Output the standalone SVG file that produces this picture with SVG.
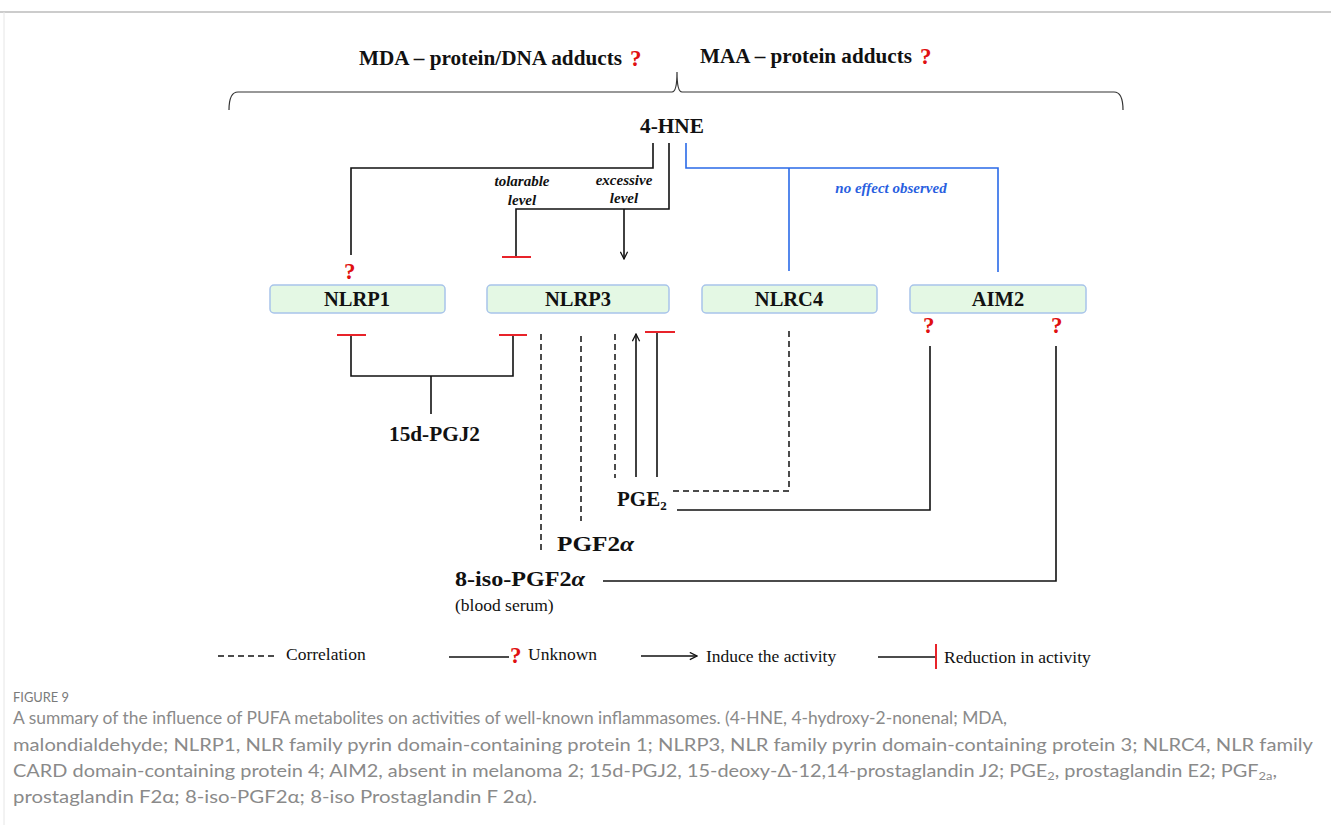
<svg xmlns="http://www.w3.org/2000/svg" width="1331" height="825" viewBox="0 0 1331 825">
<style>
.t{font-family:"Liberation Serif","Times New Roman",serif;font-weight:bold;fill:#111}
.q{font-family:"Liberation Serif",serif;font-weight:bold;fill:#e01010;font-size:23px}
.lbl{font-family:"Liberation Serif",serif;font-weight:bold;font-style:italic;font-size:15px;fill:#111}
.blue{fill:#2a5fe0}
.ln{stroke:#111;stroke-width:1.6;fill:none}
.bl{stroke:#2a6ae8;stroke-width:1.6;fill:none}
.da{stroke:#111;stroke-width:1.5;fill:none;stroke-dasharray:6,4}
.red{stroke:#e8232a;stroke-width:2;fill:none}
.box{fill:#e4f8e4;stroke:#a8c4ea;stroke-width:1.5}
.leg{font-family:"Liberation Serif",serif;font-size:17.5px;fill:#111}
.cap{font-family:Lato,"Liberation Sans",sans-serif;font-size:17px;fill:#8a8a8a}
</style>
<defs>
<marker id="ah" viewBox="0 0 10 10" refX="9" refY="5" markerWidth="9" markerHeight="9" markerUnits="userSpaceOnUse" orient="auto">
<path d="M1,1 L9,5 L1,9" fill="none" stroke="#111" stroke-width="1.4"/>
</marker>
</defs>
<rect width="1331" height="825" fill="#fff"/>
<line x1="0" y1="12" x2="1331" y2="12" stroke="#bbb" stroke-width="1.5"/>
<line x1="4" y1="12" x2="4" y2="825" stroke="#e6e6e6" stroke-width="1"/>

<g id="header">
<text class="t" x="359" y="65" font-size="20" textLength="263" lengthAdjust="spacingAndGlyphs">MDA – protein/DNA adducts</text>
<text class="q" x="630" y="66">?</text>
<text class="t" x="700" y="63" font-size="20" textLength="212" lengthAdjust="spacingAndGlyphs">MAA – protein adducts</text>
<text class="q" x="920" y="64">?</text>
<path d="M229,110 Q229,92 238,92 L672,92 Q677,92 677,72 Q677,92 682,92 L1114,92 Q1123,92 1123,110" fill="none" stroke="#333" stroke-width="1.2"/>
</g>

<g id="n-4HNE"><text class="t" x="640" y="133" font-size="20" textLength="64" lengthAdjust="spacingAndGlyphs">4-HNE</text></g>

<g id="n-NLRP1"><rect class="box" x="270" y="285" width="175" height="28" rx="4"/><text class="t" x="357" y="306" font-size="20.5" text-anchor="middle">NLRP1</text></g>
<g id="n-NLRP3"><rect class="box" x="487" y="285" width="182" height="28" rx="4"/><text class="t" x="578" y="306" font-size="20.5" text-anchor="middle">NLRP3</text></g>
<g id="n-NLRC4"><rect class="box" x="702" y="285" width="175" height="28" rx="4"/><text class="t" x="789" y="306" font-size="20.5" text-anchor="middle">NLRC4</text></g>
<g id="n-AIM2"><rect class="box" x="910" y="285" width="176" height="28" rx="4"/><text class="t" x="998" y="306" font-size="20.5" text-anchor="middle">AIM2</text></g>

<g id="n-15dPGJ2"><text class="t" x="389" y="441" font-size="21" textLength="91" lengthAdjust="spacingAndGlyphs">15d-PGJ2</text></g>
<g id="n-PGE2"><text class="t" x="617" y="506" font-size="21">PGE<tspan font-size="13" dy="4">2</tspan></text></g>
<g id="n-PGF2a"><text class="t" x="557" y="551" font-size="21" textLength="77" lengthAdjust="spacingAndGlyphs">PGF2<tspan font-style="italic">α</tspan></text></g>
<g id="n-8iso"><text class="t" x="455" y="586" font-size="21" textLength="130" lengthAdjust="spacingAndGlyphs">8-iso-PGF2<tspan font-style="italic">α</tspan></text>
<text x="455" y="611" font-family="Liberation Serif,serif" font-size="17.5" fill="#111">(blood serum)</text></g>

<g id="connectors">
<path class="ln" d="M653,143 V168 H351 V255"/>
<text class="q" x="344" y="279">?</text>
<path class="ln" d="M669,143 V209 H516 V257"/>
<line class="red" x1="502" y1="257" x2="531" y2="257"/>
<line class="ln" x1="624" y1="209" x2="624" y2="259" marker-end="url(#ah)"/>
<text class="lbl" x="522" y="186" text-anchor="middle">tolarable</text>
<text class="lbl" x="522" y="205" text-anchor="middle">level</text>
<text class="lbl" x="624" y="185" text-anchor="middle">excessive</text>
<text class="lbl" x="624" y="203" text-anchor="middle">level</text>
<path class="bl" d="M686,143 V168 H998 V272"/>
<line class="bl" x1="789" y1="168" x2="789" y2="271"/>
<text class="lbl blue" x="891" y="193" font-size="15.5" text-anchor="middle">no effect observed</text>
<path class="ln" d="M351,335 V376 H513 V335"/>
<line class="ln" x1="431" y1="376" x2="431" y2="414"/>
<line class="red" x1="337" y1="335" x2="366" y2="335"/>
<line class="red" x1="499" y1="335" x2="527" y2="335"/>
<line class="da" x1="541" y1="334" x2="541" y2="553"/>
<line class="da" x1="581" y1="336" x2="581" y2="521"/>
<line class="da" x1="615" y1="334" x2="615" y2="478"/>
<line class="ln" x1="636" y1="477" x2="636" y2="334" marker-end="url(#ah)"/>
<line class="ln" x1="657" y1="477" x2="657" y2="332"/>
<line class="red" x1="645" y1="332" x2="675" y2="332"/>
<path class="da" d="M789,331 V491 H673"/>
<path class="ln" d="M677,510 H930 V346"/>
<text class="q" x="923" y="333">?</text>
<path class="ln" d="M603,581 H1056 V346"/>
<text class="q" x="1051" y="333">?</text>
</g>

<g id="legend">
<line class="da" x1="218" y1="656" x2="276" y2="656"/>
<text class="leg" x="286" y="660">Correlation</text>
<line class="ln" x1="449" y1="657" x2="509" y2="657"/>
<text class="q" x="510" y="663">?</text>
<text class="leg" x="528" y="660">Unknown</text>
<line class="ln" x1="641" y1="656" x2="697" y2="656" marker-end="url(#ah)"/>
<text class="leg" x="706" y="662">Induce the activity</text>
<line class="ln" x1="878" y1="657" x2="936" y2="657"/>
<line class="red" x1="936" y1="644" x2="936" y2="669"/>
<text class="leg" x="944" y="663">Reduction in activity</text>
</g>

<g id="caption">
<text x="13" y="702" font-family="Lato,Liberation Sans,sans-serif" font-size="13" fill="#7a7a7a" textLength="56" lengthAdjust="spacingAndGlyphs">FIGURE 9</text>
<text class="cap" x="13" y="724" textLength="994" lengthAdjust="spacingAndGlyphs">A summary of the influence of PUFA metabolites on activities of well-known inflammasomes. (4-HNE, 4-hydroxy-2-nonenal; MDA,</text>
<text class="cap" x="13" y="751" textLength="1300" lengthAdjust="spacingAndGlyphs">malondialdehyde; NLRP1, NLR family pyrin domain-containing protein 1; NLRP3, NLR family pyrin domain-containing protein 3; NLRC4, NLR family</text>
<text class="cap" x="13" y="777" textLength="1264" lengthAdjust="spacingAndGlyphs">CARD domain-containing protein 4; AIM2, absent in melanoma 2; 15d-PGJ2, 15-deoxy-Δ-12,14-prostaglandin J2; PGE<tspan font-size="11" dy="3">2</tspan><tspan dy="-3">, prostaglandin E2; PGF</tspan><tspan font-size="11" dy="3">2a</tspan><tspan dy="-3">,</tspan></text>
<text class="cap" x="13" y="803" textLength="524" lengthAdjust="spacingAndGlyphs">prostaglandin F2α; 8-iso-PGF2α; 8-iso Prostaglandin F 2α).</text>
</g>
</svg>
